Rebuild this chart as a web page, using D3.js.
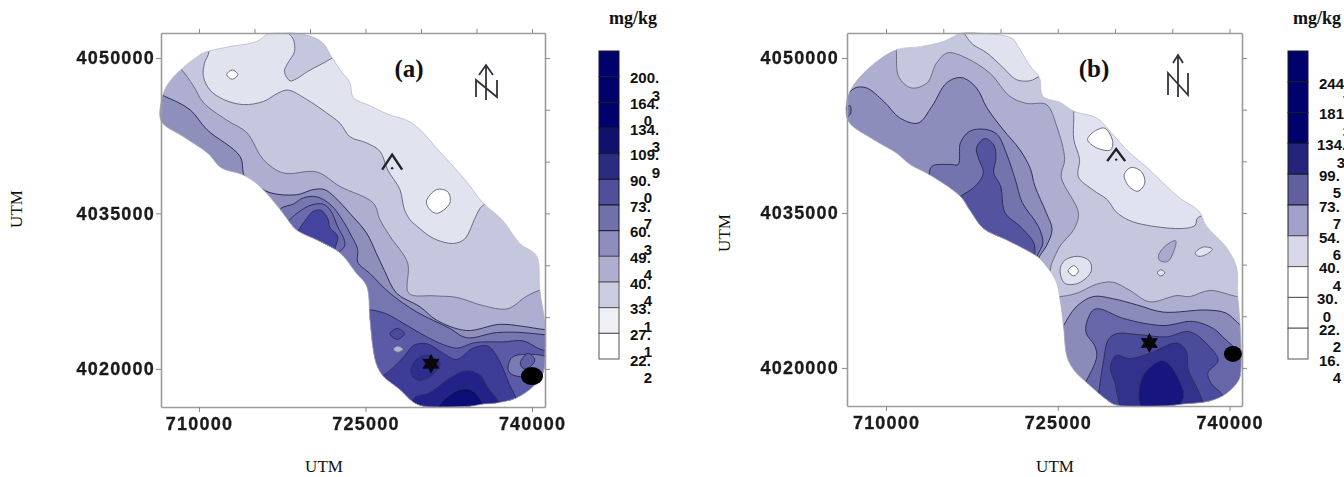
<!DOCTYPE html>
<html><head><meta charset="utf-8">
<script src="https://cdn.jsdelivr.net/npm/d3@7"></script>
<style>html,body{margin:0;background:#fff}svg{display:block}</style></head>
<body><svg id="c" width="1344" height="477"><defs><filter id="soft" x="-5%" y="-5%" width="110%" height="110%"><feGaussianBlur stdDeviation="0.45"/></filter><filter id="softText" x="-5%" y="-20%" width="110%" height="140%"><feGaussianBlur stdDeviation="0.3"/></filter></defs></svg>
<script>
// All contours are [easting km, northing km].
const ticksE=[710,715,720,725,730,735,740], ticksN=[4020,4025,4030,4035,4040,4045,4050];
const labelE=[710,725,740], labelN=[4020,4035,4050];

const legendLabelsA=["200.3","164.0","134.3","109.9","90.0","73.7","60.3","49.4","40.4","33.1","27.1","22.2"];
const legendColorsA=["#00006c","#00006c","#00006c","#10106e","#2b2b80","#50509a","#7070aa","#8e8ebe","#aeaed0","#cdcde2","#efeff6","#ffffff"];
const legendLabelsB=["244.7","181.3","134.3","99.5","73.7","54.6","40.4","30.0","22.2","16.4"];
const legendColorsB=["#00006c","#00006c","#00006c","#24247a","#6060a0","#a0a0c8","#d8d8e8","#ffffff","#ffffff","#ffffff"];

const outlineA=[[716.2,4052.3],[717.6,4052.4],[718.5,4052.4],[720.3,4052.0],[721.2,4051.4],[722.0,4050.0],[722.9,4048.6],[723.6,4047.6],[723.9,4046.2],[725.4,4045.4],[727.2,4044.5],[728.7,4044.0],[729.9,4043.1],[731.4,4041.3],[732.6,4039.9],[734.0,4038.2],[735.6,4036.0],[737.3,4034.4],[738.9,4032.1],[740.4,4030.9],[740.7,4027.6],[741.2,4024.1],[741.2,4021.8],[741.0,4019.6],[740.1,4018.3],[738.6,4017.2],[736.8,4016.7],[735.6,4016.6],[734.4,4016.4],[730.2,4016.4],[729.3,4016.8],[728.1,4018.0],[726.6,4019.3],[726.0,4020.4],[725.7,4021.8],[725.4,4024.7],[725.1,4028.0],[724.2,4029.2],[722.7,4031.2],[720.9,4032.3],[718.8,4033.4],[718.0,4034.4],[717.3,4035.4],[715.5,4037.6],[714.0,4038.7],[712.0,4039.4],[710.8,4040.8],[708.6,4042.4],[706.6,4043.9],[706.6,4045.8],[707.1,4047.3],[708.4,4048.9],[710.4,4050.5],[711.0,4050.7],[712.8,4051.1],[715.2,4051.6]];
const a1=[[710.7,4052.1],[710.9,4050.6],[710.5,4049.5],[710.4,4048.2],[711.0,4046.9],[712.2,4046.0],[714.0,4045.5],[715.8,4045.8],[717.1,4046.6],[718.0,4046.9],[719.7,4046.0],[721.5,4044.7],[722.7,4043.7],[723.6,4042.4],[725.1,4041.8],[726.3,4041.0],[727.0,4039.2],[728.1,4037.3],[728.5,4035.4],[729.0,4034.4],[729.6,4033.8],[731.1,4032.6],[732.9,4032.1],[733.9,4032.5],[734.5,4033.6],[734.8,4034.4],[735.6,4035.8],[737.4,4036.3],[732.6,4042.4],[726.6,4047.3],[723.6,4050.5],[720.6,4053.1],[714.6,4053.1]];
const aNotch=[[717.9,4052.7],[718.5,4051.8],[718.6,4050.6],[718.0,4049.5],[717.7,4048.7],[718.2,4047.8],[718.8,4048.0],[719.8,4048.7],[722.0,4050.0],[723.0,4050.8],[722.4,4052.7]];
const aHole1=[[712.5,4048.4],[713,4048.85],[713.5,4048.4],[713,4047.95]];
const aHole2=[[730.5,4036.2],[731.4,4037.3],[732.4,4037.1],[732.6,4036.0],[731.4,4035.0],[730.7,4035.5]];
const a3=[[707.6,4049.6],[708.4,4048.9],[709.5,4047.3],[710.4,4045.7],[712.5,4044.0],[714.3,4042.8],[715.8,4040.2],[717.6,4038.9],[720.6,4039.0],[722.7,4037.6],[725.7,4036.0],[726.3,4034.4],[727.2,4032.8],[728.8,4030.2],[728.9,4027.3],[731.1,4027.05],[733.2,4026.9],[735.6,4026.1],[737.8,4025.8],[739.5,4027.0],[740.7,4027.6],[743,4028.3],[743,4012],[717,4012],[704,4042],[704,4049]];
const a4=[[706.9,4046.3],[709.2,4045.0],[710.7,4043.1],[713.7,4040.5],[714.1,4038.6],[715.1,4037.8],[716.4,4037.0],[718.8,4036.8],[720.3,4037.3],[721.3,4037.3],[722.2,4036.6],[723.6,4035.0],[725.1,4033.1],[726.0,4031.1],[726.7,4029.5],[727.8,4027.3],[729.9,4026.0],[731.4,4024.7],[734.1,4023.7],[737.1,4024.3],[739.2,4024.1],[741.1,4023.8],[743.1,4023.8],[743,4012],[717,4012],[705,4042],[705,4047]];
const a5=[[717,4034.7],[717.4,4035.5],[718.5,4035.9],[719.4,4036.5],[720.6,4036.6],[721.9,4035.8],[722.9,4034.4],[723.7,4032.9],[724.3,4031.5],[724.3,4030.3],[725.4,4029.2],[727.2,4027.3],[729.6,4025.5],[732.6,4023.9],[734.1,4023.0],[736.8,4023.5],[739.2,4023.5],[741.1,4023.3],[743.1,4023.3],[743,4012],[717,4012],[712,4030]];
const a6Upper=[[717.7,4033.7],[718.2,4034.4],[719.2,4035.3],[720.1,4035.8],[721.2,4035.9],[721.9,4035.2],[722.5,4033.7],[723.1,4032.4],[723.1,4031.8],[722.5,4031.1],[722.4,4030.2],[719.4,4030.8]];
const a7Upper=[[718.6,4032.9],[718.9,4033.3],[719.7,4034.5],[720.3,4035.2],[721.0,4035.3],[721.6,4034.5],[721.8,4033.6],[722.5,4032.8],[722.3,4031.8],[722.1,4031.1],[721.9,4030.5],[720,4031.1]];
const a6Lower=[[724.5,4025.7],[725.4,4025.7],[726.9,4025.3],[728.4,4024.4],[730.5,4023.1],[732.1,4022.3],[733.3,4022.0],[734.7,4022.5],[735.6,4022.6],[737.4,4022.6],[739.2,4022.7],[741.0,4021.8],[743,4021.8],[743,4012],[717,4012],[715,4025]];
const a7Lower=[[725.4,4018.8],[726,4019.1],[726.8,4019.5],[728.4,4021.1],[729.4,4022.3],[730.6,4022.4],[732.0,4021.5],[733.2,4020.9],[734.7,4022.0],[736.0,4022.2],[736.8,4021.3],[737.4,4020.0],[738.0,4018.4],[738.6,4017.1],[738.9,4015.7],[727.5,4015.7]];
const a8=[[729.1,4016.3],[729.4,4017.2],[730.8,4017.7],[732.6,4019.1],[734.1,4019.8],[735.3,4019.4],[736.0,4018.2],[737.0,4016.8],[737.2,4015.7],[729.1,4015.7]];
const a9=[[731.2,4015.7],[731.7,4016.6],[732.6,4017.5],[733.8,4018.1],[734.8,4017.8],[735.6,4016.6],[736.0,4015.7]];
const aStarBlob=[[729.1,4020.0],[729.7,4021.0],[730.6,4021.3],[731.7,4020.5],[731.0,4019.4],[730.0,4018.9],[729.3,4019.2]];
const aSpotDark=[[727.2,4023.4],[727.85,4023.9],[728.5,4023.4],[727.85,4022.85]];
const aSpotLight=[[727.5,4021.9],[727.9,4022.2],[728.4,4021.9],[727.9,4021.6]];
const aEastLight=[[738.2,4021.1],[737.85,4019.9],[738.3,4019.4],[739.8,4019.2],[741.5,4019.3],[741.5,4021.0],[739.5,4021.4]];
const aEastSpot=[[738.95,4020.6],[739.65,4021.5],[740.25,4020.85],[739.8,4020.2],[739.2,4020.05]];
const aMarks={star:[730.9,4020.5],well:[740.0,4019.3],caret:[727.4,4039.9]};

const outlineB=[[716.6,4052.4],[718.2,4052.4],[721.0,4051.9],[721.7,4050.8],[722.6,4049.2],[723.4,4048.1],[723.7,4046.3],[725.2,4045.7],[726.5,4044.8],[728.4,4044.2],[729.8,4042.6],[731.3,4040.8],[732.8,4039.4],[734.2,4037.9],[735.7,4036.4],[737.3,4035.2],[738.0,4033.7],[739.7,4031.7],[740.6,4029.8],[740.7,4027.2],[740.9,4024.6],[741.0,4019.8],[740.8,4018.8],[739.7,4017.5],[738.3,4016.8],[736.0,4016.5],[734.2,4016.3],[730.1,4016.4],[729.3,4016.9],[727.5,4018.6],[726.4,4019.8],[725.8,4021.1],[725.5,4024.0],[725.2,4026.6],[724.8,4028.5],[723.4,4030.6],[722.6,4031.2],[720.5,4032.4],[718.5,4033.5],[717.3,4035.3],[716.5,4036.6],[713.8,4038.7],[712.1,4039.7],[710.9,4040.8],[708.9,4042.1],[706.7,4043.9],[706.6,4046.0],[707.3,4047.6],[708.9,4049.4],[710.9,4050.8],[713.0,4051.1],[715.0,4051.6]];
const b1North=[[716.6,4053.1],[717.0,4052.1],[717.6,4051.3],[718.8,4050.5],[720.1,4049.2],[721.4,4047.9],[722.6,4047.8],[723.4,4048.2],[724.3,4048.2],[723.7,4053]];
const b1Centre=[[726.5,4045.0],[726.4,4044.0],[726.4,4042.1],[726.9,4040.2],[726.8,4038.5],[728.1,4037.2],[729.3,4036.3],[730.1,4035.1],[731.2,4034.3],[732.8,4033.8],[736.0,4033.5],[737.0,4033.8],[737.2,4034.5],[738.6,4035.3],[734.2,4044],[728.4,4045.6]];
const bHole1=[[727.6,4042.1],[728.2,4042.9],[729.1,4043.2],[729.8,4041.9],[729.6,4041.1],[728.4,4041.3]];
const bHole2=[[730.8,4038.7],[731.4,4039.4],[732.3,4039.0],[732.6,4037.9],[732.0,4037.1],[731.2,4037.6]];
const b3Upper=[[710.8,4051.8],[710.9,4050.7],[711.1,4048.2],[712.2,4047.1],[713.6,4047.6],[714.4,4049.5],[715.4,4050.5],[717.0,4050.0],[719.1,4048.5],[720.8,4046.3],[722.3,4045.6],[724.0,4045.5],[724.9,4043.4],[725.6,4040.2],[725.3,4038.5],[726.8,4035.0],[726.4,4033.4],[725.2,4031.8],[724.5,4030.2],[724.0,4028.9],[712,4030],[704,4042],[704,4051]];
const b3Lower=[[724.6,4026.9],[725.2,4026.9],[726.6,4027.2],[728.4,4028.1],[729.8,4028.3],[731.3,4027.5],[733.0,4026.4],[735.4,4027.0],[736.5,4026.9],[738.3,4027.5],[740.7,4026.9],[741.8,4026.9],[742,4014],[722,4014]];
const b4Upper=[[706.4,4046.1],[707.3,4047.1],[708.3,4047.1],[709.8,4045.8],[711.2,4044.2],[712.8,4043.7],[714.0,4045.3],[715.3,4047.6],[716.6,4048.1],[717.9,4047.1],[718.8,4045.2],[720.2,4043.1],[721.7,4041.1],[722.6,4039.3],[723.0,4037.6],[724.0,4035.0],[724.5,4033.4],[724.0,4031.8],[723.3,4030.6],[723,4029.5],[712,4030],[704,4042]];
const b5Upper=[[713.7,4038.2],[714.0,4039.5],[715.6,4039.7],[716.3,4039.7],[716.5,4041.8],[717.3,4042.9],[718.6,4043.1],[719.7,4042.6],[720.5,4040.8],[721.3,4038.2],[721.9,4036.0],[723.3,4033.7],[723.7,4032.1],[723.2,4030.8],[723,4029.5],[712,4030]];
const b6Upper=[[716.0,4036.1],[716.5,4036.6],[717.8,4037.6],[718.5,4038.9],[718.1,4040.2],[717.9,4041.3],[718.6,4042.2],[719.4,4041.6],[719.6,4040.3],[719.4,4038.9],[720.0,4037.6],[720.4,4035.0],[721.7,4033.7],[722.9,4032.1],[723.0,4031.1],[722.9,4030.3],[712,4030]];
const bEdgeSpot=[[706.35,4044.9],[706.85,4045.4],[706.9,4044.6],[706.4,4044.2]];
const bRing=[[725.2,4029.5],[725.6,4030.4],[726.8,4030.8],[727.8,4030.3],[727.9,4029.3],[726.8,4028.2],[725.6,4028.2]];
const bRingHole=[[725.9,4029.4],[726.4,4029.9],[726.8,4029.4],[726.4,4028.9]];
const bSliver=[[733.8,4030.9],[734.5,4031.9],[735.3,4032.3],[735.1,4031.2],[734.6,4030.3],[733.9,4030.4]];
const bLightSpot1=[[737.0,4031.1],[737.7,4031.7],[738.5,4031.5],[738.0,4031.0],[737.3,4030.8]];
const bLightSpot2=[[733.7,4029.2],[734.0,4029.5],[734.35,4029.2],[734.0,4028.9]];
const b4Lower=[[725.2,4023.6],[725.5,4024.1],[726.6,4025.9],[728.1,4026.9],[729.8,4026.7],[731.9,4026.1],[734.2,4025.4],[738.0,4025.6],[739.7,4025.3],[741.0,4024.1],[741.8,4023.6],[742,4014],[722,4014]];
const b5Lower=[[727.1,4018.2],[727.4,4018.6],[728.4,4021.1],[728.2,4022.2],[727.5,4023.3],[727.5,4024.3],[728.1,4025.6],[728.7,4025.7],[730.7,4024.8],[734.2,4024.1],[736.8,4024.5],[738.6,4023.8],[739.7,4022.7],[741.0,4021.5],[741.8,4021.1],[742,4014],[724,4014]];
const b6Lower=[[728.5,4016.9],[728.6,4017.8],[729.0,4020.7],[729.4,4022.7],[730.1,4023.3],[732.2,4023.2],[734.5,4023.0],[736.5,4023.5],[738.3,4022.0],[739.0,4020.7],[738.1,4019.5],[738.4,4018.5],[739.3,4017.5],[739.6,4016.7],[739.6,4014],[728.5,4014]];
const b7=[[730.6,4016.1],[730.4,4016.5],[730.0,4018.5],[729.6,4020.1],[730.1,4021.2],[731.3,4020.9],[733.0,4021.4],[735.4,4022.4],[736.2,4021.7],[736.4,4019.8],[737.1,4018.2],[737.6,4016.9],[737.7,4016.2],[737.7,4014],[730.6,4014]];
const b8=[[732.3,4016.2],[732.1,4017.8],[732.6,4019.5],[734.1,4020.7],[734.9,4020.1],[736.0,4017.5],[735.8,4016.7],[735.4,4016.2],[734,4015]];
const bMarks={star:[733.0,4022.4],well:[740.3,4021.35],caret:[730.1,4040.6]};

const panels=[{
  id:"a",title:"(a)",frame:[161,545,33,407],eDom:[706.58,741.17],nDom:[4016.32,4052.41],outline:outlineA,
  layers:[[a1,"#e1e3ef"],[aNotch,"#c5c7df"],[aHole1,"#ffffff"],[aHole2,"#ffffff"],[a3,"#adaed0"],[a4,"#8f8fbc"],[a5,"#7676b0"],[a6Upper,"#6a6aad"],[a7Upper,"#4545a0"],[a6Lower,"#5a5aa6"],[aSpotDark,"#4a4a9e"],[aSpotLight,"#b4b4d6"],[a7Lower,"#3c3c98"],[aStarBlob,"#2e2e8e"],[a8,"#232388"],[a9,"#0e0e78"],[aEastLight,"#7a7ab4"],[aEastSpot,"#5f5fa6"]],
  marks:aMarks,wellR:[11,9],caret:[10,8,7],yPad:1,
  north:{x:486,top:65,bot:100,hw:7,hh:10,nl:476,nr:497,nt:80,nb:97},
  titleAt:[409,77],ylabel:[17,209],xlabel:[324,472],
  legend:{labels:legendLabelsA,colors:legendColorsA,x:599,w:20,y0:51,y1:359,textX:{},digitX:d=>["200.3","134.3","109.9"].includes(d)?656:648,baseX:630,head:633}
},{
  id:"b",title:"(b)",frame:[847,1242,33,406],eDom:[706.59,741.09],nDom:[4016.31,4052.42],outline:outlineB,
  layers:[[b1North,"#e0e2ef"],[b3Upper,"#adaed0"],[b1Centre,"#e0e2ef"],[bHole1,"#ffffff"],[bHole2,"#ffffff"],[b4Upper,"#8d8dbb"],[bEdgeSpot,"#6f6fae"],[b5Upper,"#7373ae"],[b6Upper,"#5252a0"],[bRing,"#e0e2ef"],[bRingHole,"#ffffff"],[bSliver,"#a9aacd"],[bLightSpot1,"#e0e2ef"],[bLightSpot2,"#e0e2ef"],[b3Lower,"#adaed0"],[b4Lower,"#8b8bba"],[b5Lower,"#6666a8"],[b6Lower,"#4c4c9c"],[b7,"#33338c"],[b8,"#15157e"]],
  marks:bMarks,wellR:[9,8],caret:[9,6,6],yPad:3,
  north:{x:1178,top:55,bot:97,hw:5,hh:8,nl:1168,nr:1188,nt:73,nb:95},
  titleAt:[1094,77],ylabel:[725,233],xlabel:[1055,472],
  legend:{labels:legendLabelsB,colors:legendColorsB,x:1288,w:20,y0:51,y1:359,textX:{"134.3":1317,"30.0":1317},digitX:d=>d==="134.3"?1341:d==="30.0"?1327:(d==="244.7"||d==="181.3")?1347:1337,baseX:1319,head:1317}
}];

const svg=d3.select("#c");
const SANS="'Liberation Sans',Arial,sans-serif", SERIF="'Liberation Serif','Times New Roman',serif";

panels.forEach(p=>{
  const [L,R,T,B]=p.frame;
  const x=d3.scaleLinear(p.eDom,[L,R]), y=d3.scaleLinear(p.nDom,[B,T]);
  const shape=d3.line(d=>x(d[0]),d=>y(d[1])).curve(d3.curveCatmullRomClosed.alpha(0.5));
  const g=svg.append("g");
  g.append("clipPath").attr("id","clip"+p.id).append("path").attr("d",shape(p.outline));
  const soft=g.append("g").attr("filter","url(#soft)");
  const map=soft.append("g").attr("clip-path",`url(#clip${p.id})`);
  map.append("path").attr("d",shape(p.outline)).attr("fill","#c5c7df");
  map.selectAll("path.lev").data(p.layers).join("path").attr("class","lev")
    .attr("d",d=>shape(d[0])).attr("fill",d=>d[1])
    .attr("stroke",d=>{const c=d3.hsl(d[1]);return c.l>0.72?"#6c6c80":"#2e2e5c";})
    .attr("stroke-width",1);
  soft.append("path").attr("d",shape(p.outline)).attr("fill","none").attr("stroke","#b4b4c4").attr("stroke-width",0.7);

  // frame and ticks
  const ax=(gen,tx,ty)=>{
    const a=g.append("g").attr("transform",`translate(${tx},${ty})`).call(gen.tickSizeOuter(0));
    a.select(".domain").attr("stroke","#9c9c9c").attr("stroke-width",1.6);
    a.selectAll(".tick line").attr("stroke","#8a8a8a").attr("stroke-width",1);
    return a;
  };
  ax(d3.axisTop(x).tickValues(ticksE).tickSize(4).tickFormat(""),0,T);
  ax(d3.axisRight(y).tickValues(ticksN).tickSize(5).tickFormat(""),R,0);
  const fmt=v=>String(v*1000);
  [ax(d3.axisLeft(y).tickValues(labelN).tickSize(5).tickPadding(p.yPad).tickFormat(fmt),L,0),
   ax(d3.axisBottom(x).tickValues(labelE).tickSize(5).tickPadding(5).tickFormat(fmt),0,B)]
   .forEach(a=>a.selectAll("text").attr("font-family",SANS).attr("font-weight","bold").attr("font-size",18).attr("fill","#1a1a1a").attr("letter-spacing",1.2).attr("stroke","#1a1a1a").attr("stroke-width",0.3).attr("filter","url(#softText)"));

  // markers
  const m=p.marks;
  const star=d3.lineRadial().curve(d3.curveLinearClosed).radius((d,i)=>i%2?5.5:10).angle((d,i)=>i*Math.PI/6);
  g.append("path").attr("d",star(d3.range(12))).attr("transform",`translate(${x(m.star[0])},${y(m.star[1])})`).attr("fill","#08080f");
  g.append("ellipse").attr("cx",x(m.well[0])).attr("cy",y(m.well[1])).attr("rx",p.wellR[0]).attr("ry",p.wellR[1]).attr("fill","#000");
  const cx=x(m.caret[0]),cy=y(m.caret[1]),[cw,cu,cd]=p.caret;
  g.append("path").attr("d",d3.line()([[cx-cw,cy+cd],[cx,cy-cu],[cx+cw,cy+cd]])).attr("fill","none").attr("stroke","#22222e").attr("stroke-width",2.4);
  g.append("circle").attr("cx",cx).attr("cy",cy+cd-1.5).attr("r",1.2).attr("fill","#22222e");

  // north arrow
  const n=p.north, np=d3.path();
  np.moveTo(n.x,n.bot);np.lineTo(n.x,n.top);
  np.moveTo(n.x-n.hw,n.top+n.hh);np.lineTo(n.x,n.top);np.lineTo(n.x+n.hw,n.top+n.hh);
  np.moveTo(n.nl,n.nb);np.lineTo(n.nl,n.nt);np.lineTo(n.nr,n.nb);np.lineTo(n.nr,n.nt);
  g.append("path").attr("d",np.toString()).attr("fill","none").attr("stroke","#33333c").attr("stroke-width",1.8);

  // texts
  const serif=(s,px,py,size,weight)=>g.append("text").text(s).attr("x",px).attr("y",py).attr("text-anchor","middle").attr("font-family",SERIF).attr("font-size",size).attr("font-weight",weight).attr("fill","#111");
  serif(p.title,p.titleAt[0],p.titleAt[1],25,"bold");
  serif("UTM",p.xlabel[0],p.xlabel[1],17,"normal");
  serif("UTM",0,0,17,"normal").attr("transform",`translate(${p.ylabel[0]+5},${p.ylabel[1]}) rotate(-90)`);
  serif("mg/kg",p.legend.head,24,18,"bold");

  // legend
  const l=p.legend, band=d3.scaleBand(d3.range(l.colors.length),[l.y0,l.y1]);
  g.selectAll("rect.cell").data(l.colors).join("rect").attr("class","cell")
    .attr("x",l.x).attr("width",l.w).attr("y",(d,i)=>band(i)).attr("height",band.bandwidth())
    .attr("fill",d=>d).attr("stroke",(d,i)=>i>=l.colors.length-4?"#555":"#1a1a2a").attr("stroke-width",1);
  l.labels.forEach((s,i)=>{
    const cut=s.indexOf(".")+1, yy=band(i)+band.bandwidth()+1.3;
    const t=(str,px,py,anchor)=>g.append("text").text(str).attr("x",px).attr("y",py).attr("dy",".36em").attr("text-anchor",anchor).attr("font-family",SANS).attr("font-weight","bold").attr("font-size",15).attr("fill","#111");
    t(s.slice(0,cut),l.textX[s]||l.baseX,yy,"start");
    t(s.slice(cut),l.digitX(s),yy+17.4,"middle");
  });
});
</script></body></html>
